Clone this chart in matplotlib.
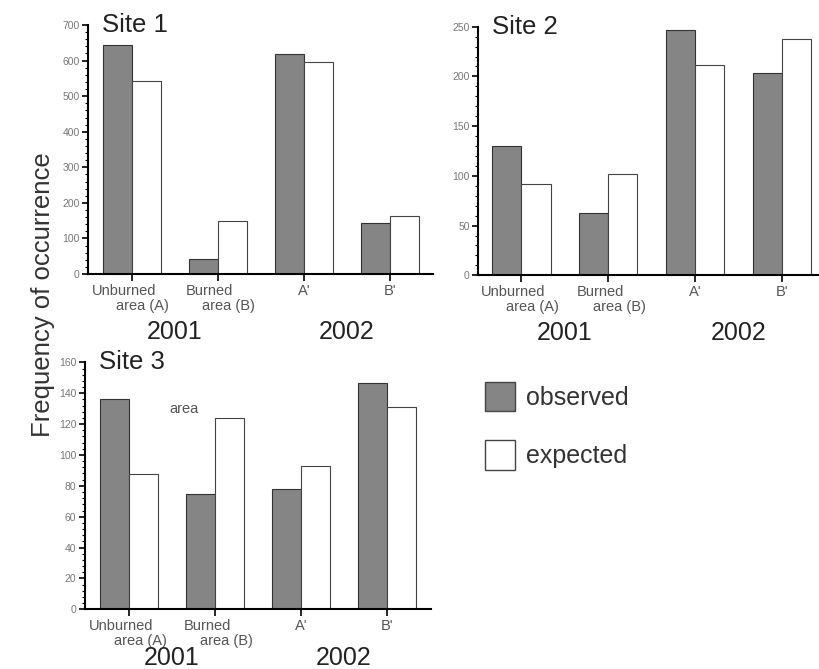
import matplotlib.pyplot as plt
import numpy as np
from matplotlib.patches import Patch
from matplotlib.ticker import AutoMinorLocator

plt.rcParams['font.family'] = ['Liberation Sans', 'DejaVu Sans']

# Datos
groups = ['A', 'B', "A'", "B'"]
site1_observed = [643, 43, 618, 143]
site1_expected = [543, 148, 596, 164]
site2_observed = [130, 63, 247, 203]
site2_expected = [91.5, 102, 211.5, 238]
site3_observed = [136, 75, 78, 146.5]
site3_expected = [87.5, 124, 93, 131]
years = ['2001', '2002']

fig = plt.figure(figsize=(8.2, 6.69), dpi=100)

# Posiciones de cada panel (fraccion de figura), limites en x, ymax, paso, desplazamiento del año
panels = [
    ('Site 1', site1_observed, site1_expected, [0.1073, 0.5904, 0.4207, 0.3722], (-0.51, 3.5), 700, 100, -58),
    ('Site 2', site2_observed, site2_expected, [0.5829, 0.5885, 0.4171, 0.3716], (-0.5, 3.44), 250, 50, -58),
    ('Site 3', site3_observed, site3_expected, [0.1033, 0.0892, 0.4223, 0.3692], (-0.515, 3.51), 160, 20, -49),
]

width = 0.337
label_gray = '#555555'

axes = []
for title, obs, exp, rect, xlim, ymax, ystep, yr_off in panels:
    ax = fig.add_axes(rect)
    x = np.arange(len(groups))
    ax.bar(x - width / 2, obs, width, color='#858585', edgecolor='#333333', linewidth=0.8)
    ax.bar(x + width / 2, exp, width, color='white', edgecolor='#444444', linewidth=0.8)

    ax.set_xlim(*xlim)
    ax.set_ylim(0, ymax)
    ax.set_yticks(np.arange(0, ymax + 1, ystep))
    ax.yaxis.set_minor_locator(AutoMinorLocator(5))
    ax.tick_params(axis='y', which='major', direction='out', length=4, width=1.2,
                   labelsize=7.5, labelcolor='#777777', pad=2)
    ax.tick_params(axis='y', which='minor', direction='out', length=2, width=0.8)
    ax.set_xticks(x)
    ax.set_xticklabels([])
    ax.tick_params(axis='x', direction='out', length=5, width=1.2)

    for s in ['top', 'right']:
        ax.spines[s].set_visible(False)
    for s in ['left', 'bottom']:
        ax.spines[s].set_linewidth(1.5)

    # Etiquetas de las categorias
    trans = ax.get_xaxis_transform()
    lines = [('Unburned', 'area (A)'), ('Burned', 'area (B)')]
    for i, (l1, l2) in enumerate(lines):
        ax.annotate(l1, (x[i], 0), xycoords=trans, xytext=(-8, -17), textcoords='offset pixels',
                    ha='center', va='center', fontsize=10.5, color=label_gray)
        ax.annotate(l2, (x[i], 0), xycoords=trans, xytext=(11, -32), textcoords='offset pixels',
                    ha='center', va='center', fontsize=10.5, color=label_gray)
    for i in [2, 3]:
        ax.annotate(groups[i], (x[i], 0), xycoords=trans, xytext=(0, -17), textcoords='offset pixels',
                    ha='center', va='center', fontsize=10.5, color=label_gray)
    for j, yr in enumerate(years):
        ax.annotate(yr, (2 * j + 0.5, 0), xycoords=trans, xytext=(0, yr_off), textcoords='offset pixels',
                    ha='center', va='center', fontsize=18, color='#222222')

    ax.text(0.04, 1.0, title, transform=ax.transAxes, ha='left', va='center',
            fontsize=18.5, color='#222222')
    axes.append(ax)

# Texto suelto que aparece en el panel 3
axes[2].text(0.64, 130, 'area', ha='center', va='center', fontsize=10.5, color=label_gray)

fig.text(0.052, 0.56, 'Frequency of occurrence', rotation=90, ha='center', va='center',
         fontsize=18.5, color='#333333')

handles = [Patch(facecolor='#858585', edgecolor='#444444', label='observed'),
           Patch(facecolor='white', edgecolor='#444444', label='expected')]
fig.legend(handles=handles, loc='upper left', bbox_to_anchor=(0.564, 0.463), frameon=False,
           fontsize=18, handlelength=1.2, handleheight=1.45, handletextpad=0.45,
           labelspacing=1.15, labelcolor='#333333')

plt.savefig('out.png', dpi=100)
